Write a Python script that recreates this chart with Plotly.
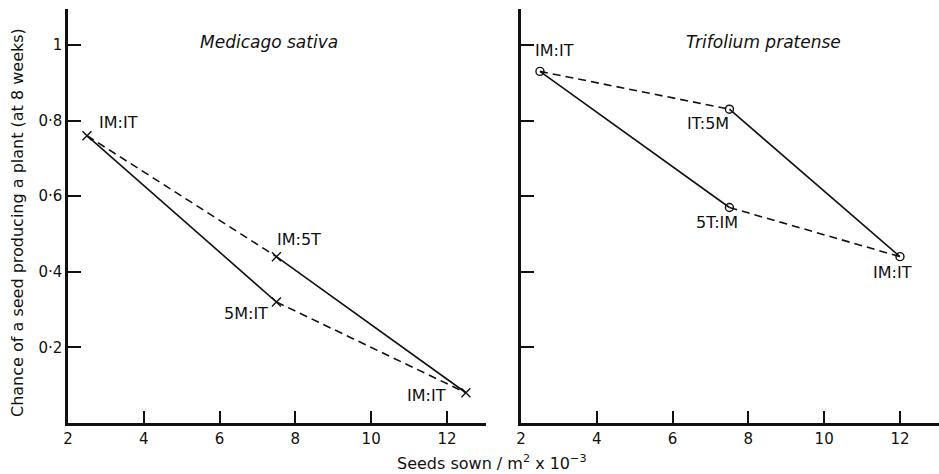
import plotly.graph_objects as go

# ---------------- data ----------------
med_x = [2.5, 7.5, 7.5, 12.5]
med_y = [0.76, 0.44, 0.32, 0.08]
med_labels = ["IM:IT", "IM:5T", "5M:IT", "IM:IT"]

tri_x = [2.5, 7.5, 7.5, 12.0]
tri_y = [0.93, 0.83, 0.57, 0.44]
tri_labels = ["IM:IT", "IT:5M", "5T:IM", "IM:IT"]

# which points are joined by solid and by dashed lines
solid_pairs = [(0, 2), (1, 3)]
dashed_pairs = [(0, 1), (2, 3)]

x_ticks = [2, 4, 6, 8, 10, 12]
x_ticktext = ["2", "4", "6", "8", "10", "12"]
y_ticks = [0.2, 0.4, 0.6, 0.8, 1.0]
y_ticktext = ["0·2", "0·4", "0·6", "0·8", "1"]

panel_titles = ["Medicago sativa", "Trifolium pratense"]
y_title = "Chance of a seed producing a plant (at 8 weeks)"
x_title = "Seeds sown / m<sup>2</sup> x 10<sup>−3</sup>"

# ---------------- styling ----------------
FONT = "DejaVu Sans"
INK = "#111111"

# label offsets (pixels) relative to each point: (xanchor, xshift, yshift)
med_offsets = [("left", 10, 13), ("left", -1, 17), ("right", -6, -11), ("right", -18, -3)]
tri_offsets = [("left", -7, 21), ("right", 2, -14), ("center", -12, -15), ("center", -7, -16)]


def segs(xs, ys, pairs):
    sx, sy = [], []
    for a, b in pairs:
        sx += [xs[a], xs[b], None]
        sy += [ys[a], ys[b], None]
    return sx, sy


fig = go.Figure()

panels = [
    (med_x, med_y, med_labels, med_offsets, "x", "y", "x-thin-open", 9),
    (tri_x, tri_y, tri_labels, tri_offsets, "x2", "y2", "circle-open", 8),
]

annotations = []
for xs, ys, labs, offs, xa, ya, sym, msz in panels:
    sx, sy = segs(xs, ys, solid_pairs)
    fig.add_trace(go.Scatter(x=sx, y=sy, mode="lines", xaxis=xa, yaxis=ya,
                             line=dict(color=INK, width=1.6), showlegend=False,
                             hoverinfo="skip"))
    dx, dy = segs(xs, ys, dashed_pairs)
    fig.add_trace(go.Scatter(x=dx, y=dy, mode="lines", xaxis=xa, yaxis=ya,
                             line=dict(color=INK, width=1.6, dash="8px,5px"),
                             showlegend=False, hoverinfo="skip"))
    fig.add_trace(go.Scatter(x=xs, y=ys, mode="markers", xaxis=xa, yaxis=ya,
                             marker=dict(symbol=sym, size=msz, color=INK,
                                         line=dict(color=INK, width=1.4)),
                             showlegend=False))
    for xv, yv, lab, (anc, xs_, ys_) in zip(xs, ys, labs, offs):
        annotations.append(dict(x=xv, y=yv, xref=xa, yref=ya, text=lab,
                                showarrow=False, xanchor=anc, yanchor="middle",
                                xshift=xs_, yshift=ys_,
                                font=dict(family=FONT, size=16, color=INK)))

# panel titles
for t, xa, xv in zip(panel_titles, ["x", "x2"], [7.3, 8.4]):
    annotations.append(dict(x=xv, y=1.0, xref=xa, yref="y", text="<i>" + t + "</i>",
                            showarrow=False, xanchor="center", yanchor="middle",
                            yshift=3,
                            font=dict(family=FONT, size=17, color=INK)))

L, T, B = 68, 9, 51
W, H = 939, 474
pw = W - L
ph = H - T - B

annotations.append(dict(x=(17 - L) / pw, y=(H - B - 223) / ph, xref="paper", yref="paper",
                        text=y_title, textangle=-90, showarrow=False,
                        xanchor="center", yanchor="middle",
                        font=dict(family=FONT, size=16, color=INK)))
annotations.append(dict(x=(492 - L) / pw, y=(H - B - 462) / ph, xref="paper", yref="paper",
                        text=x_title, showarrow=False,
                        xanchor="center", yanchor="middle",
                        font=dict(family=FONT, size=16, color=INK)))

axis_common = dict(showgrid=False, zeroline=False, showline=True, linecolor=INK,
                   linewidth=2.5, ticks="inside", tickcolor=INK, tickwidth=1.5,
                   tickfont=dict(family=FONT, size=15, color=INK))

fig.update_layout(
    width=W, height=H,
    margin=dict(l=L, r=0, t=T, b=B),
    paper_bgcolor="white", plot_bgcolor="white",
    annotations=annotations,
    xaxis=dict(domain=[0, (486 - L) / pw], range=[2, 13.03],
               tickvals=x_ticks, ticktext=x_ticktext, ticklen=12, anchor="y",
               **axis_common),
    yaxis=dict(domain=[0, 1], range=[0, 1.095], tickvals=y_ticks,
               ticktext=y_ticktext, ticklen=13, anchor="x", **axis_common),
    xaxis2=dict(domain=[(521 - L) / pw, 1], range=[2, 13.03],
                tickvals=x_ticks, ticktext=x_ticktext, ticklen=12, anchor="y2",
                **axis_common),
    yaxis2=dict(domain=[0, 1], range=[0, 1.095], tickvals=y_ticks,
                showticklabels=False, ticklen=13, anchor="x2", **axis_common),
)

fig.write_html("out.html", config={"displayModeBar": False},
               post_script="document.body.style.margin='0';")
